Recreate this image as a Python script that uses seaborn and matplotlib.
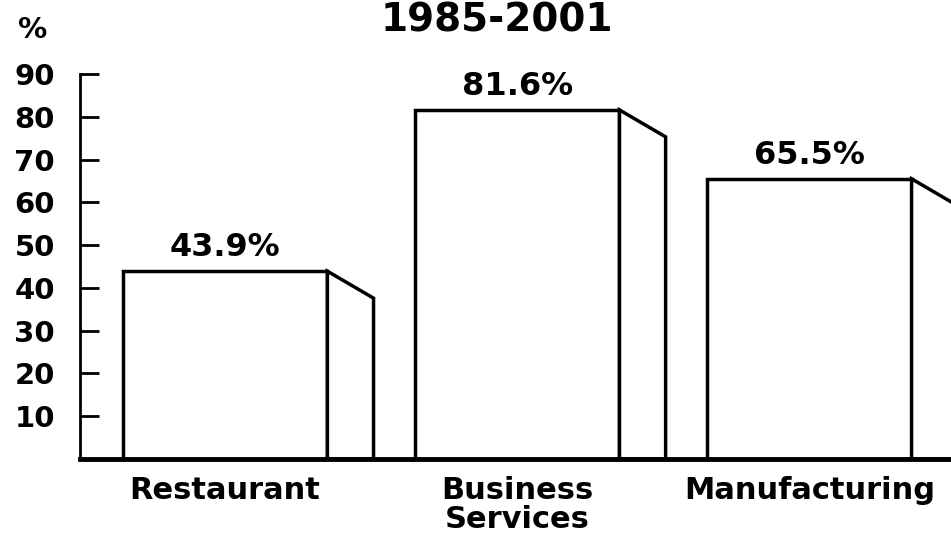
import matplotlib
matplotlib.use('Agg')
import matplotlib.pyplot as plt
from matplotlib.patches import Polygon
import pandas as pd
import seaborn as sns

categories = ['Restaurant', 'Business\nServices', 'Manufacturing']
growth = [43.9, 81.6, 65.5]
value_labels = ['43.9%', '81.6%', '65.5%']
y_ticks = [10, 20, 30, 40, 50, 60, 70, 80, 90]
title = '1985-2001'


def main(out_path='out.png'):
    df = pd.DataFrame({'sector': categories, 'growth': growth})

    sns.set_style('white')
    plt.rcParams['font.family'] = ['DejaVu Sans']
    plt.rcParams['font.weight'] = 'bold'
    plt.rcParams['text.color'] = 'black'
    plt.rcParams['xtick.color'] = 'black'
    plt.rcParams['ytick.color'] = 'black'
    plt.rcParams['axes.edgecolor'] = 'black'

    fig = plt.figure(figsize=(9.51, 5.5), dpi=100)
    ax = fig.add_axes([80 / 951, 91 / 550, 871 / 951, 385 / 550])
    sns.barplot(data=df, x='sector', y='growth', color='white', saturation=1,
                edgecolor='black', linewidth=2.5, width=0.7, errorbar=None, ax=ax)

    # fake 3d side face on each bar
    depth, drop = 0.158, 6.3
    for p, lab in zip(list(ax.patches), value_labels):
        x0, w, h = p.get_x(), p.get_width(), p.get_height()
        side = Polygon([(x0 + w, 0), (x0 + w, h), (x0 + w + depth, h - drop),
                        (x0 + w + depth, 0)], closed=True, facecolor='white',
                       edgecolor='black', linewidth=2.5)
        ax.add_patch(side)
        ax.text(x0 + w / 2, h + 3.5, lab, ha='center', va='baseline',
                fontsize=23, fontweight='bold', color='black')

    ax.set_xlim(-0.497, 2.485)
    ax.set_ylim(0, 90)
    ax.set_yticks(y_ticks)
    ax.set_yticklabels([str(t) for t in y_ticks])
    ax.set_xlabel('')
    ax.set_ylabel('')
    ax.tick_params(axis='y', direction='in', length=14, width=2, pad=18,
                   labelsize=21, left=True, colors='black')
    ax.tick_params(axis='x', length=0, pad=12, labelsize=22, colors='black')
    for t in ax.get_xticklabels():
        t.set_linespacing(1.0)
        t.set_fontweight('bold')
    for t in ax.get_yticklabels():
        t.set_fontweight('bold')

    sns.despine(ax=ax, top=True, right=True)
    ax.spines['left'].set_linewidth(2)
    ax.spines['bottom'].set_linewidth(3.5)

    fig.text(497 / 951, 1 - 31 / 550, title, ha='center', va='baseline',
             fontsize=28, fontweight='bold', color='black')
    fig.text(33 / 951, 1 - 30 / 550, '%', ha='center', va='center',
             fontsize=21, fontweight='bold', color='black')

    fig.savefig(out_path, dpi=100, facecolor='white')


if __name__ == '__main__':
    main()
